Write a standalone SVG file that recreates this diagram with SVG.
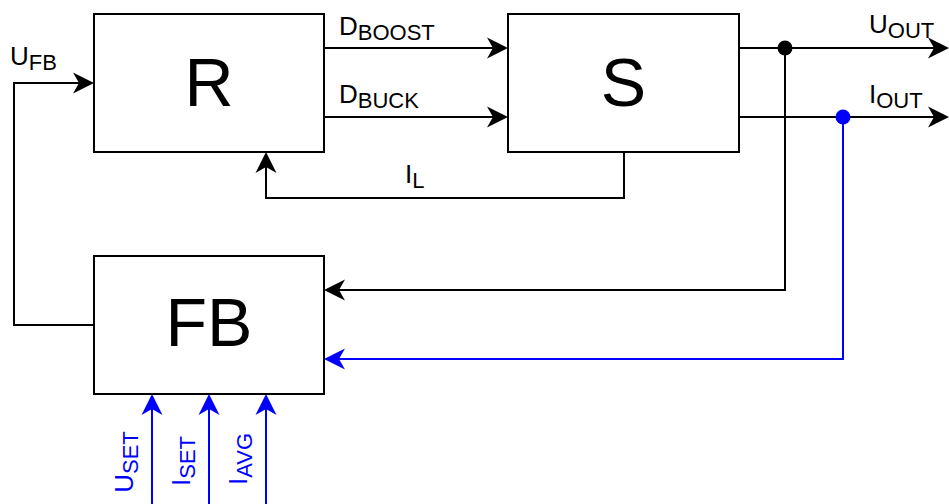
<svg xmlns="http://www.w3.org/2000/svg" width="949" height="504" viewBox="0 0 949 504">
<style>
.box{fill:#fff;stroke:#000;stroke-width:2}
.big{font-family:"Liberation Sans",Arial,sans-serif;font-size:68px;text-anchor:middle;fill:#000}
.lbl{font-family:"Liberation Sans",Arial,sans-serif;font-size:26px;fill:#000}
.sub{font-size:22px}
.w{fill:none;stroke:#000;stroke-width:2}
.b{fill:none;stroke:#0000ff;stroke-width:2}
.blue{fill:#0000ff}
</style>
<defs>
<marker id="ak" markerUnits="userSpaceOnUse" markerWidth="22" markerHeight="22" viewBox="0 0 22 22" refX="6" refY="11" orient="auto"><path d="M0,0.5 L21,11 L0,21.5 L6,11 Z" fill="#000"/></marker>
<marker id="ab" markerUnits="userSpaceOnUse" markerWidth="22" markerHeight="22" viewBox="0 0 22 22" refX="6" refY="11" orient="auto"><path d="M0,0.5 L21,11 L0,21.5 L6,11 Z" fill="#0000ff"/></marker>
</defs>
<g id="connectors">
<path class="w" d="M324,48 H493" marker-end="url(#ak)"/>
<path class="w" d="M324,117 H493" marker-end="url(#ak)"/>
<path class="w" d="M739,48 H934" marker-end="url(#ak)"/>
<path class="w" d="M739,117 H934" marker-end="url(#ak)"/>
<path class="w" d="M785,48 V290 H339" marker-end="url(#ak)"/>
<path class="b" d="M843,117 V359 H339" marker-end="url(#ab)"/>
<path class="w" d="M624,152 V198 H266 V167" marker-end="url(#ak)"/>
<path class="w" d="M94,325 H14 V83 H79" marker-end="url(#ak)"/>
<path class="b" d="M152,504 V409" marker-end="url(#ab)"/>
<path class="b" d="M209,504 V409" marker-end="url(#ab)"/>
<path class="b" d="M266,504 V409" marker-end="url(#ab)"/>
<circle cx="785" cy="48" r="7.5" fill="#000"/>
<circle cx="843" cy="117" r="7.5" fill="#0000ff"/>
<text class="lbl" x="339" y="35">D<tspan class="sub" dy="5">BOOST</tspan></text>
<text class="lbl" x="339" y="103">D<tspan class="sub" dy="5">BUCK</tspan></text>
<text class="lbl" x="869" y="33">U<tspan class="sub" dy="5">OUT</tspan></text>
<text class="lbl" x="869" y="103">I<tspan class="sub" dy="5">OUT</tspan></text>
<text class="lbl" x="10" y="65">U<tspan class="sub" dy="5">FB</tspan></text>
<text class="lbl" x="405" y="183">I<tspan class="sub" dy="5">L</tspan></text>
<text class="lbl blue" transform="translate(133,462) rotate(-90)" text-anchor="middle">U<tspan class="sub" dy="5">SET</tspan></text>
<text class="lbl blue" transform="translate(190,461) rotate(-90)" text-anchor="middle">I<tspan class="sub" dy="5">SET</tspan></text>
<text class="lbl blue" transform="translate(247,459) rotate(-90)" text-anchor="middle">I<tspan class="sub" dy="5">AVG</tspan></text>
</g>
<g id="R"><rect class="box" x="94" y="14" width="230" height="138"/><text class="big" x="209" y="106">R</text></g>
<g id="S"><rect class="box" x="508" y="14" width="231" height="138"/><text class="big" x="623.5" y="106">S</text></g>
<g id="FB"><rect class="box" x="94" y="256" width="230" height="138"/><text class="big" x="209" y="346">FB</text></g>
</svg>
